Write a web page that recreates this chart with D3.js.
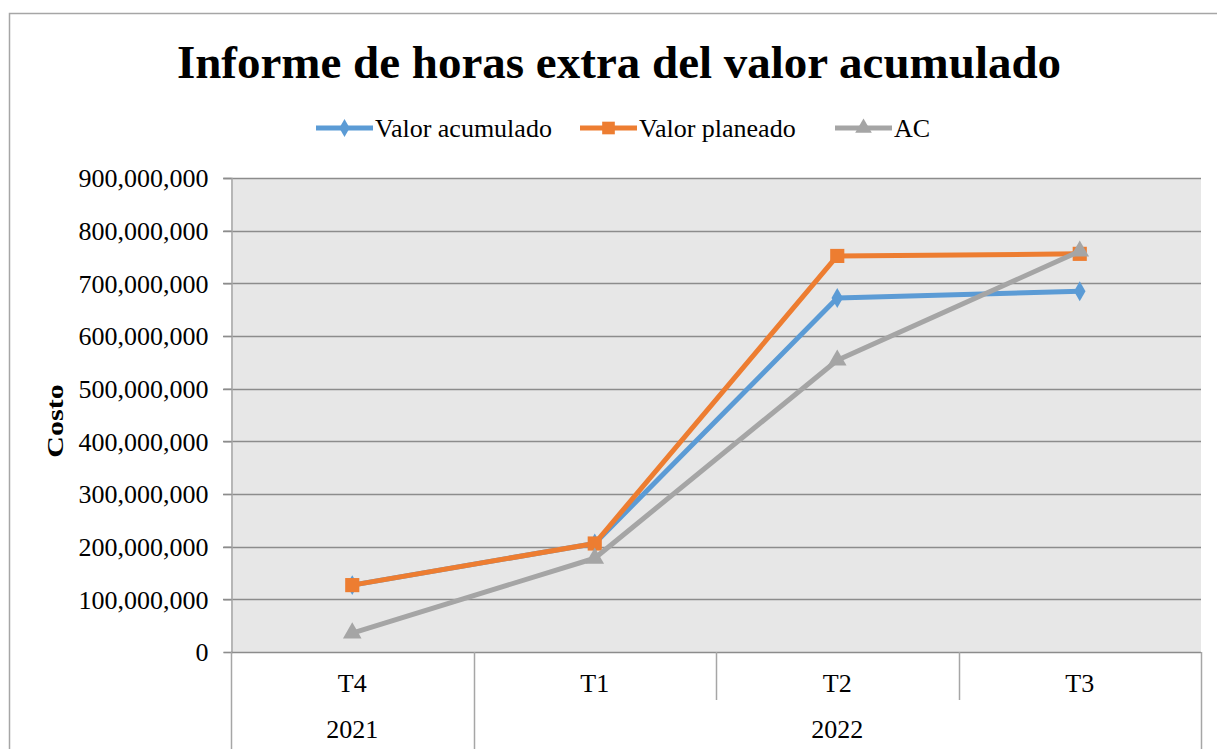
<!DOCTYPE html>
<html>
<head>
<meta charset="utf-8">
<script src="https://cdn.jsdelivr.net/npm/d3@7"></script>
<style>
  body { margin: 0; background: #fff; }
  svg text { font-family: "Liberation Serif", "Times New Roman", serif !important; }
</style>
</head>
<body>
<div id="chart"></div>
<script>
var quarters = ["T4", "T1", "T2", "T3"];
var years = [{ label: "2021", from: 0, to: 1 }, { label: "2022", from: 1, to: 4 }];
var valorAcumulado = [127000000, 206000000, 672000000, 685000000];
var valorPlaneado = [127000000, 206000000, 752000000, 756000000];
var acValues = [36000000, 178000000, 554000000, 761000000];
var yTicks = [0, 100000000, 200000000, 300000000, 400000000, 500000000, 600000000, 700000000, 800000000, 900000000];

var series = [
  { name: "Valor acumulado", values: valorAcumulado, color: "#5b9bd5", symbol: d3.symbolDiamond, size: 115 },
  { name: "Valor planeado", values: valorPlaneado, color: "#ed7d31", symbol: d3.symbolSquare, size: 200 },
  { name: "AC", values: acValues, color: "#a5a5a5", symbol: d3.symbolTriangle, size: 150 }
];

var width = 1217, height = 749;
var plotLeft = 231, plotRight = 1201, plotTop = 178, plotBottom = 652;

var svg = d3.select("#chart").append("svg")
  .attr("width", width).attr("height", height)
  .attr("font-family", "Liberation Serif");

// outer frame
svg.append("rect")
  .attr("x", 9.5).attr("y", 13.5)
  .attr("width", 1220).attr("height", 760)
  .attr("fill", "white").attr("stroke", "#a6a6a6").attr("stroke-width", 1.5);

var x = d3.scaleBand().domain(quarters).range([plotLeft, plotRight]);
var y = d3.scaleLinear().domain([0, 900000000]).range([plotBottom, plotTop]);

// plot area
svg.append("rect")
  .attr("x", plotLeft).attr("y", plotTop)
  .attr("width", plotRight - plotLeft).attr("height", plotBottom - plotTop)
  .attr("fill", "#e7e7e7");

// gridlines
svg.append("g").selectAll("line")
  .data(yTicks.slice(1))
  .enter().append("line")
  .attr("x1", plotLeft - 8).attr("x2", plotRight)
  .attr("y1", function (d) { return Math.round(y(d)) + 0.5; })
  .attr("y2", function (d) { return Math.round(y(d)) + 0.5; })
  .attr("stroke", "#8c8c8c").attr("stroke-width", 1.3);

// y axis
var yAxis = d3.axisLeft(y).tickValues(yTicks).tickSize(8).tickPadding(15)
  .tickFormat(d3.format(",d"));
var yg = svg.append("g").attr("transform", "translate(" + (plotLeft + 0.5) + ",0)").call(yAxis);
yg.attr("font-family", null).attr("font-size", null);
yg.select(".domain").attr("stroke", "#a6a6a6").attr("stroke-width", 1.5);
yg.selectAll(".tick line").attr("stroke", "#8c8c8c").attr("stroke-width", 1.3);
yg.selectAll("text").attr("font-size", "26px").attr("fill", "#000").attr("dy", "0.34em");

// x axis: base line and dividers
svg.append("line")
  .attr("x1", plotLeft).attr("x2", plotRight)
  .attr("y1", plotBottom + 0.5).attr("y2", plotBottom + 0.5)
  .attr("stroke", "#8c8c8c").attr("stroke-width", 1.5);

var dividers = [];
quarters.forEach(function (q, i) {
  dividers.push({ xpos: x(q), full: years.some(function (yr) { return yr.from === i; }) });
});
dividers.push({ xpos: plotRight, full: true });

svg.append("g").selectAll("line")
  .data(dividers)
  .enter().append("line")
  .attr("x1", function (d) { return Math.round(d.xpos) + 0.5; })
  .attr("x2", function (d) { return Math.round(d.xpos) + 0.5; })
  .attr("y1", plotBottom)
  .attr("y2", function (d) { return d.full ? 749 : 700; })
  .attr("stroke", "#a6a6a6").attr("stroke-width", 1.5);

svg.append("g").selectAll("text")
  .data(quarters)
  .enter().append("text")
  .attr("x", function (d) { return x(d) + x.bandwidth() / 2; })
  .attr("y", 692)
  .attr("text-anchor", "middle")
  .attr("font-size", "26px")
  .text(function (d) { return d; });

svg.append("g").selectAll("text")
  .data(years)
  .enter().append("text")
  .attr("x", function (d) { return (x(quarters[d.from]) + (d.to < quarters.length ? x(quarters[d.to]) : plotRight)) / 2; })
  .attr("y", 738)
  .attr("text-anchor", "middle")
  .attr("font-size", "26px")
  .text(function (d) { return d.label; });

// lines and markers
var line = d3.line()
  .x(function (d, i) { return x(quarters[i]) + x.bandwidth() / 2; })
  .y(function (d) { return y(d); });

series.forEach(function (s) {
  svg.append("path")
    .datum(s.values)
    .attr("d", line)
    .attr("fill", "none")
    .attr("stroke", s.color)
    .attr("stroke-width", 5)
    .attr("stroke-linejoin", "round");
  svg.append("g").selectAll("path")
    .data(s.values)
    .enter().append("path")
    .attr("transform", function (d, i) {
      return "translate(" + (x(quarters[i]) + x.bandwidth() / 2) + "," + y(d) + ")";
    })
    .attr("d", d3.symbol().type(s.symbol).size(s.size))
    .attr("fill", s.color);
});

// title
svg.append("text")
  .attr("x", 619).attr("y", 78)
  .attr("text-anchor", "middle")
  .attr("font-size", "47px")
  .attr("font-weight", "bold")
  .text("Informe de horas extra del valor acumulado");

// y label
svg.append("text")
  .attr("transform", "translate(63,421) rotate(-90) scale(1.25,1)")
  .attr("text-anchor", "middle")
  .attr("font-size", "24px")
  .attr("font-weight", "bold")
  .text("Costo");

// legend
var legendPos = [316, 580, 835];
var legend = svg.append("g").selectAll("g")
  .data(series)
  .enter().append("g")
  .attr("transform", function (d, i) { return "translate(" + legendPos[i] + ",128)"; });

legend.append("line")
  .attr("x1", 0).attr("x2", 57)
  .attr("stroke", function (d) { return d.color; })
  .attr("stroke-width", 5);
legend.append("path")
  .attr("transform", "translate(28.5,0)")
  .attr("d", function (d) { return d3.symbol().type(d.symbol).size(d.size * 0.8)(); })
  .attr("fill", function (d) { return d.color; });
legend.append("text")
  .attr("x", 59).attr("y", 9)
  .attr("font-size", "26px")
  .text(function (d) { return d.name; });
</script>
</body>
</html>
